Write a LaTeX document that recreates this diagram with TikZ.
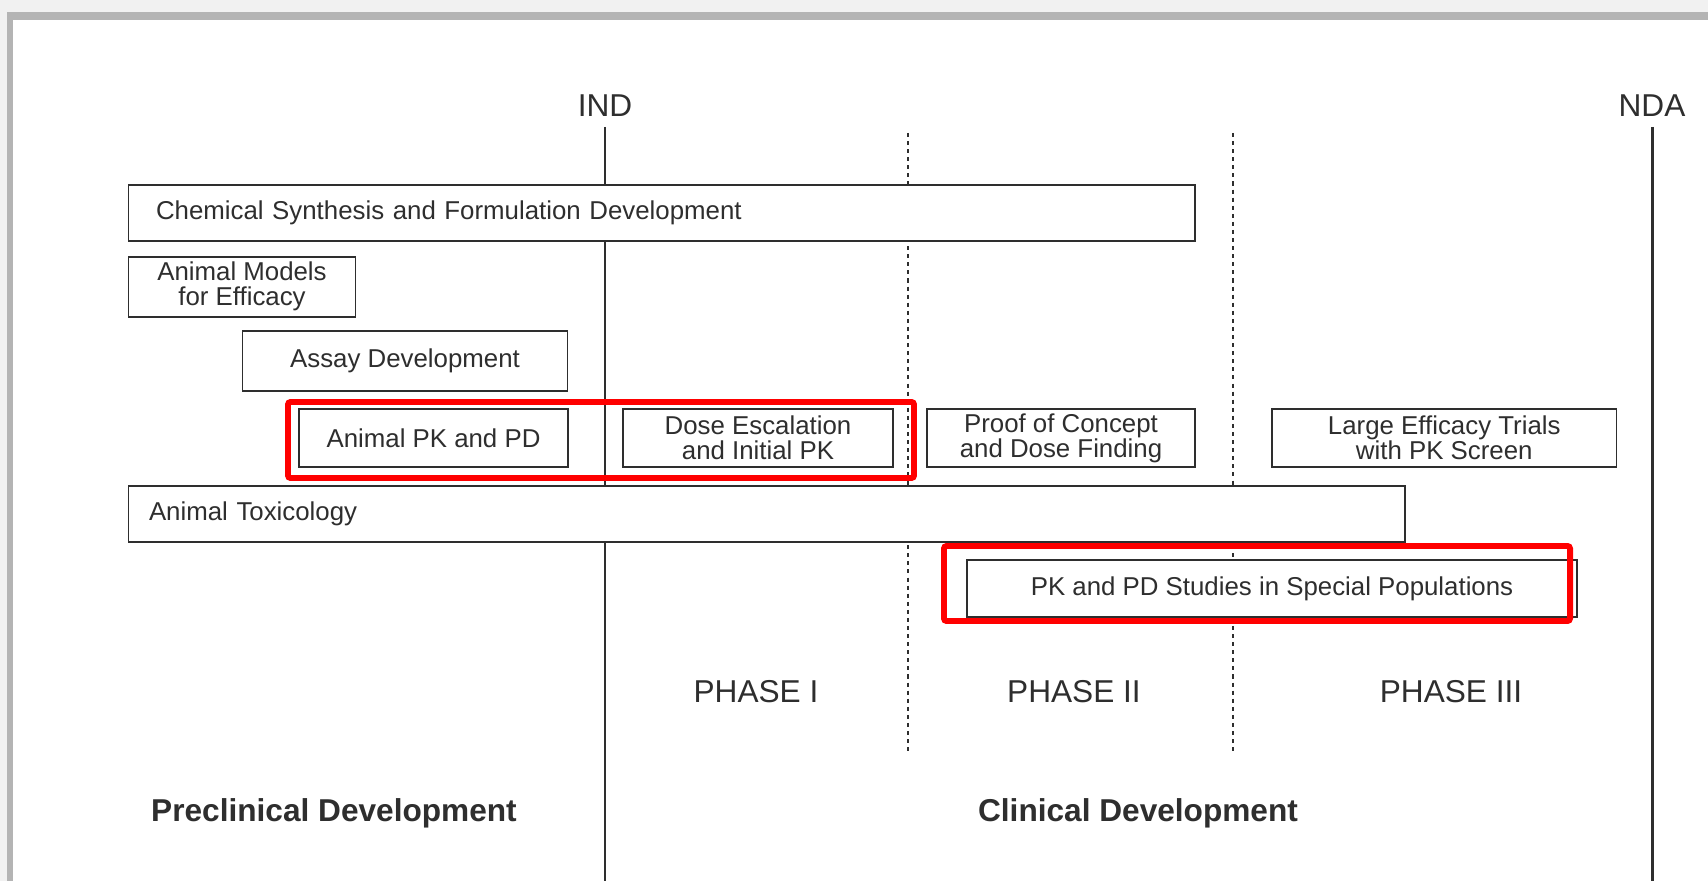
\documentclass[tikz,border=0pt]{standalone}
\usepackage{fontspec}
\setmainfont{Liberation Sans}
\usetikzlibrary{positioning}

\newlength{\pxu}
\setlength{\pxu}{0.02cm}
\newcommand{\boxfont}{\fontsize{14.7pt}{14.2pt}\selectfont}
\newcommand{\bigfont}{\fontsize{18pt}{20pt}\selectfont}
\definecolor{inkgray}{HTML}{2E2E2E}
\definecolor{framegray}{HTML}{B4B4B4}
\definecolor{pagegray}{HTML}{F1F1F1}

\begin{document}
\begin{tikzpicture}[x=0.02cm,y=-0.02cm,
    stage/.style={draw=inkgray,line width=1.1pt,fill=white,inner sep=0pt,
      align=center,text=inkgray,font=\boxfont},
    milestone/.style={inkgray,line width=1.7pt},
    phaseline/.style={inkgray,line width=1.6pt,dash pattern=on 2.3pt off 2.3pt},
    hilite/.style={red,line width=3.4pt,rounded corners=1.5pt},
    heading/.style={text=inkgray,font=\bigfont,inner sep=0pt}]
  % page and frame
  \useasboundingbox (0,0) rectangle (1708,881);
  \fill[pagegray] (0,0) rectangle (1708,881);
  \fill[framegray] (7,12) rectangle (1708,881);
  \fill[white] (13,20) rectangle (1708,881);
  % milestones
  \node[heading] (ind) at (605,106) {IND};
  \node[heading] (nda) at (1652,106) {NDA};
  \coordinate (indtop) at (605,127);
  \coordinate (indbot) at (605,881);
  \coordinate (ndatop) at (1652,127);
  \coordinate (ndabot) at (1652,881);
  \draw[milestone] (indtop) -- (indbot);
  \draw[milestone] (ndatop) -- (ndabot);
  % phase borders
  \coordinate (p1top) at (908,133);
  \coordinate (p1bot) at (908,752);
  \coordinate (p2top) at (1233,133);
  \coordinate (p2bot) at (1233,752);
  \draw[phaseline] (p1top) -- (p1bot);
  \draw[phaseline] (p2top) -- (p2bot);
  % activities
  \node[stage,align=left,text width=1011.5\pxu,inner xsep=27.5\pxu,minimum height=55.7\pxu]
    (chem) at (661.75,212.85) {Chemical Synthesis and Formulation Development};
  \node[stage,minimum width=227\pxu,minimum height=60\pxu]
    (models) at (242,286.6) {Animal Models\\for Efficacy};
  \node[stage,minimum width=325\pxu,minimum height=60\pxu]
    (assay) at (405,361) {Assay Development};
  \node[stage,minimum width=269\pxu,minimum height=58\pxu]
    (animpk) at (433.5,438) {Animal PK and PD};
  \node[stage,minimum width=270\pxu,minimum height=58\pxu]
    (dose) at (758,438) {Dose Escalation\\and Initial PK};
  \node[stage,minimum width=268\pxu,minimum height=58\pxu]
    (proof) at (1061,438) {Proof of Concept\\and Dose Finding};
  \node[stage,minimum width=344.5\pxu,minimum height=58\pxu]
    (large) at (1444.25,438) {Large Efficacy Trials\\with PK Screen};
  \node[stage,align=left,text width=1235.5\pxu,inner xsep=20.5\pxu,minimum height=56\pxu]
    (tox) at (766.75,513.7) {Animal Toxicology};
  \node[stage,minimum width=610\pxu,minimum height=56.7\pxu]
    (special) at (1272,588.35) {PK and PD Studies in Special Populations};
  % highlights
  \draw[hilite] (288,402) rectangle (914,478);
  \draw[hilite] (944,546) rectangle (1570,621);
  % phase names
  \node[heading] (ph1) at (756,692) {PHASE I};
  \node[heading] (ph2) at (1074,692) {PHASE II};
  \node[heading] (ph3) at (1451,692) {PHASE III};
  \node[heading,font=\bigfont\bfseries] (precl) at (334,813) {Preclinical Development};
  \node[heading,font=\bigfont\bfseries] (clin) at (1138,813) {Clinical Development};
\end{tikzpicture}
\end{document}
